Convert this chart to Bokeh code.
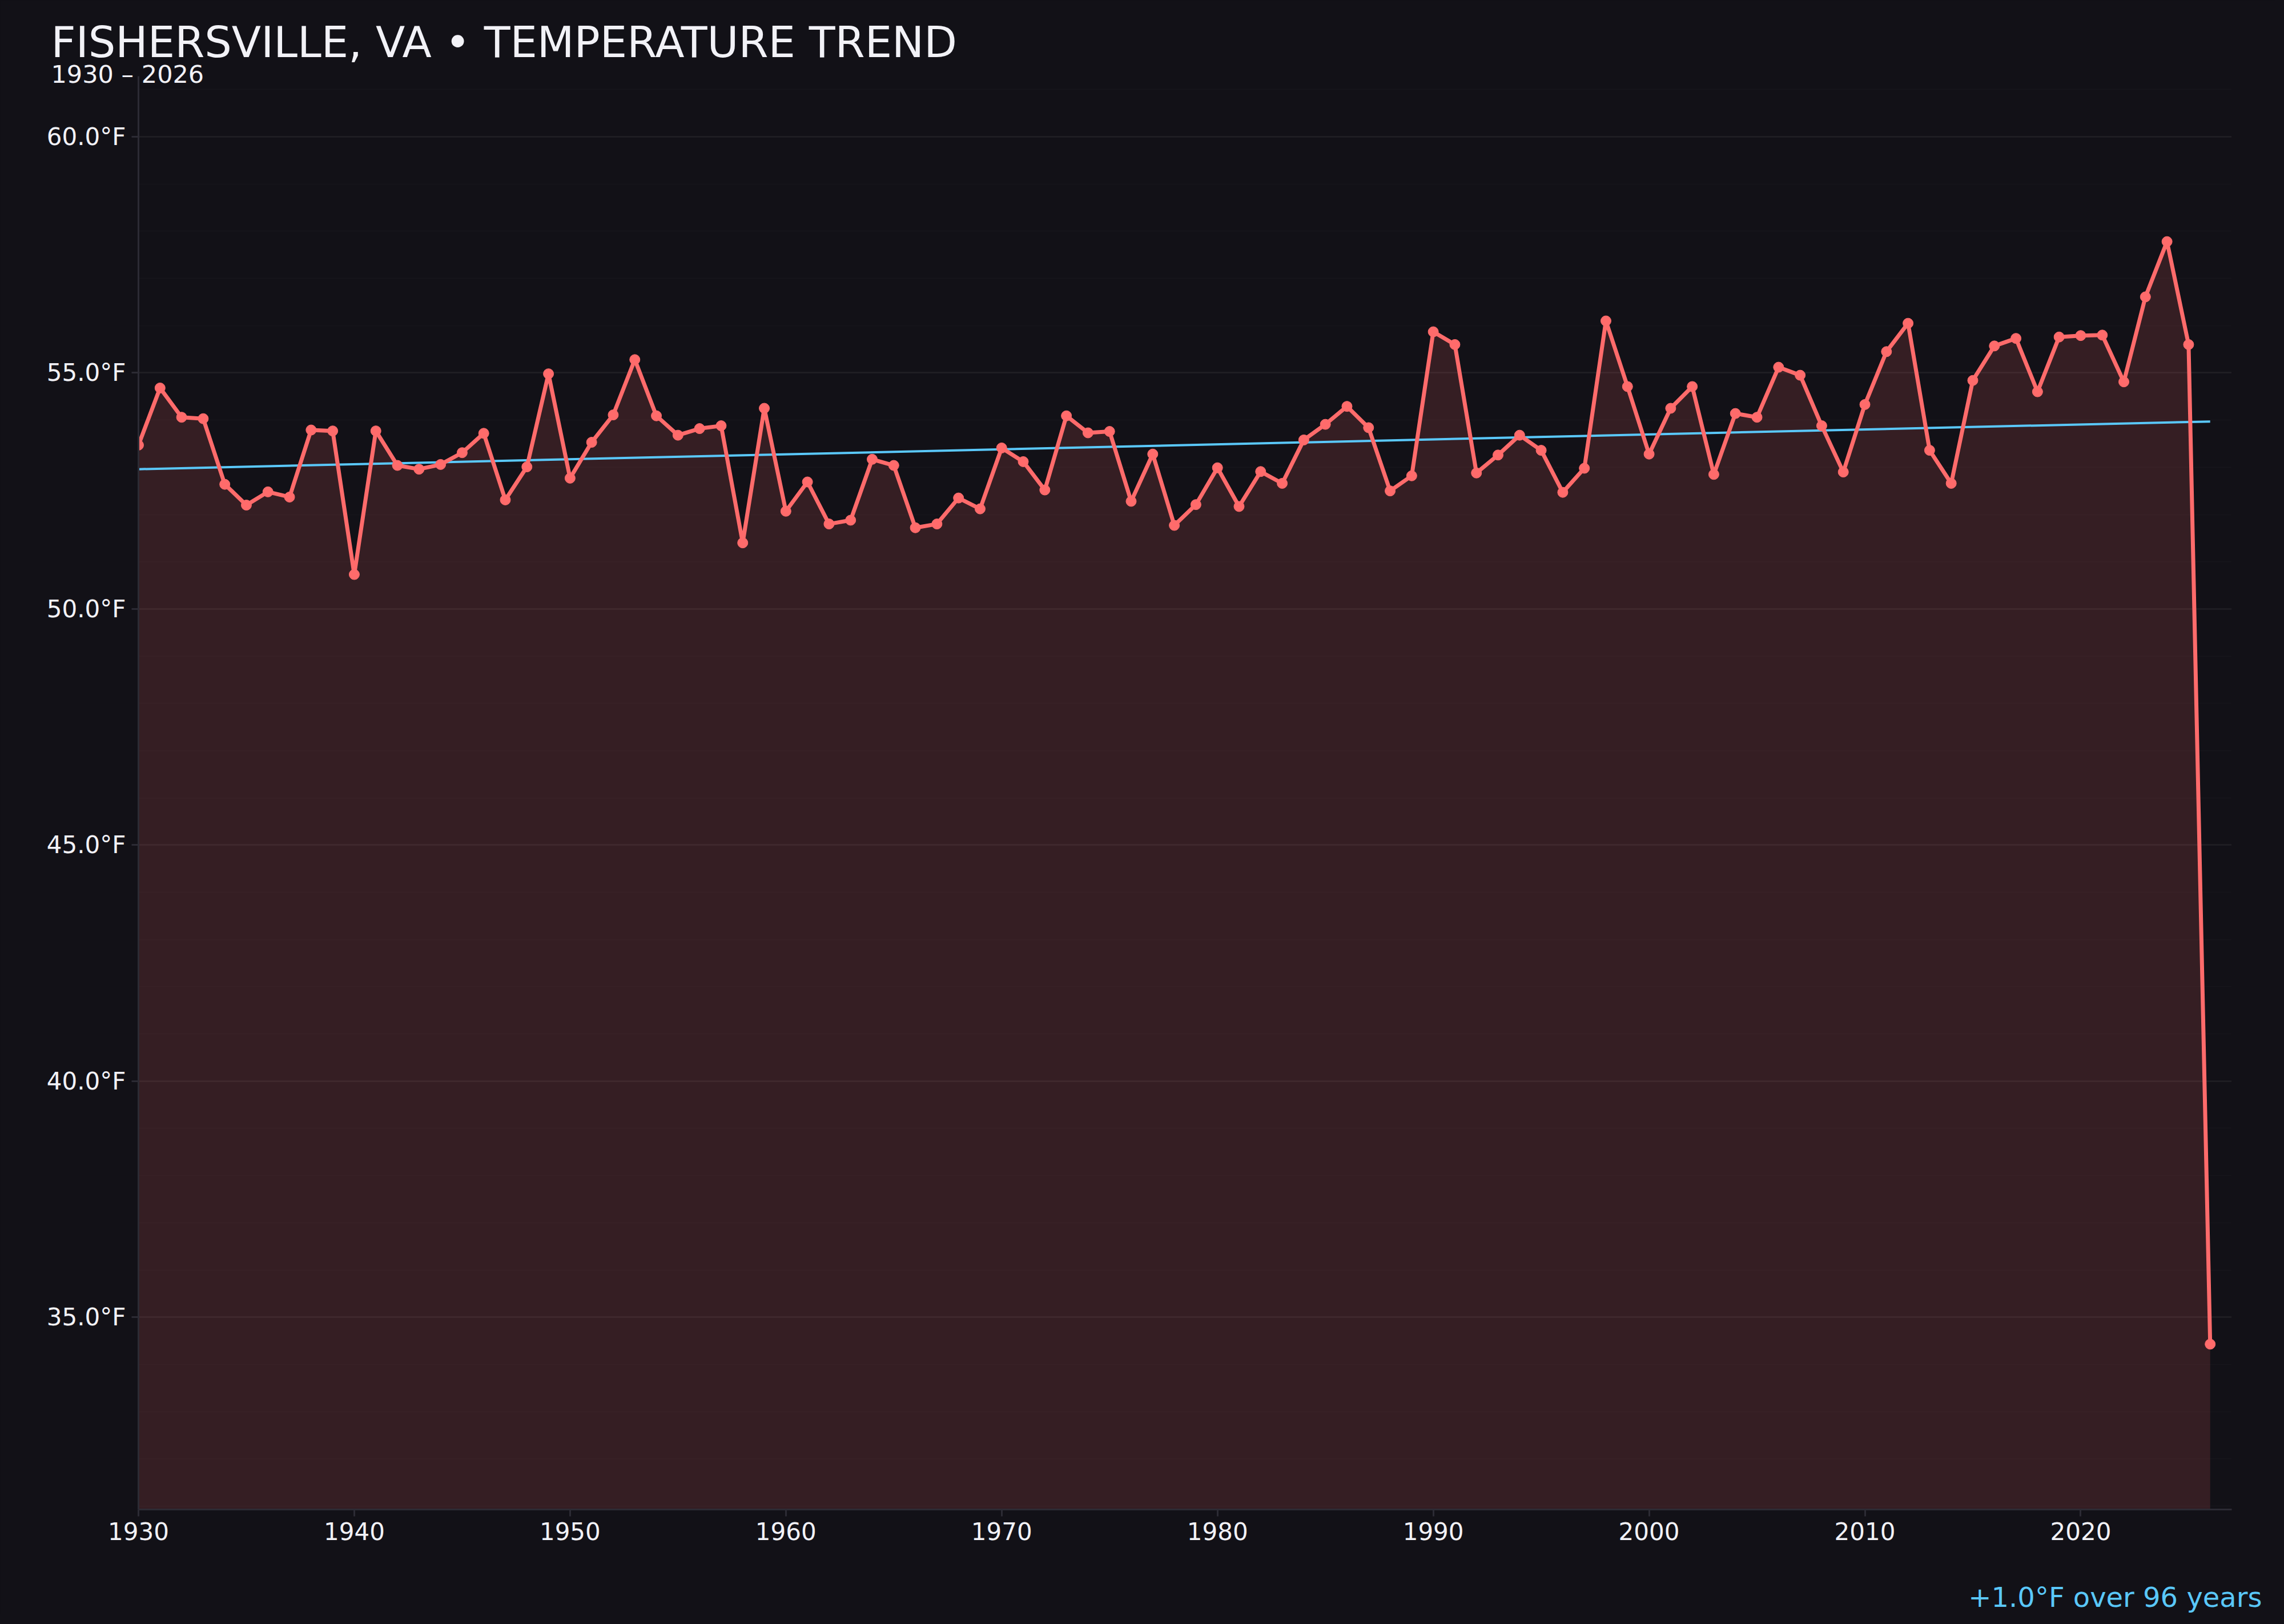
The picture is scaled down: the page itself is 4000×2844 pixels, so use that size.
from bokeh.embed import file_html
from bokeh.models import ColumnDataSource, FixedTicker, PrintfTickFormatter, Range1d, Title
from bokeh.plotting import figure
from bokeh.resources import INLINE

years = list(range(1930, 2027))
temps = [
    53.47, 54.68, 54.06, 54.03, 52.64, 52.20, 52.48, 52.37, 53.79, 53.77,  # 1930s
    50.73, 53.77, 53.04, 52.96, 53.06, 53.31, 53.72, 52.31, 53.01, 54.98,  # 1940s
    52.77, 53.53, 54.11, 55.28, 54.09, 53.68, 53.82, 53.88, 51.40, 54.25,  # 1950s
    52.07, 52.69, 51.80, 51.88, 53.17, 53.04, 51.72, 51.80, 52.35, 52.12,  # 1960s
    53.41, 53.12, 52.52, 54.09, 53.73, 53.76, 52.28, 53.28, 51.77, 52.21,  # 1970s
    52.99, 52.17, 52.91, 52.66, 53.58, 53.91, 54.29, 53.84, 52.50, 52.82,  # 1980s
    55.87, 55.60, 52.88, 53.26, 53.68, 53.36, 52.47, 52.98, 56.10, 54.71,  # 1990s
    53.28, 54.25, 54.71, 52.85, 54.14, 54.06, 55.12, 54.95, 53.88, 52.90,  # 2000s
    54.33, 55.45, 56.05, 53.36, 52.66, 54.84, 55.57, 55.73, 54.60, 55.76,  # 2010s
    55.79, 55.80, 54.81, 56.61, 57.78, 55.60, 34.43,                       # 2020s
]
trend_years = [1930, 2026]
trend_temps = [52.96, 53.97]
x_ticks = [1930, 1940, 1950, 1960, 1970, 1980, 1990, 2000, 2010, 2020]
y_ticks = [35, 40, 45, 50, 55, 60]

title_text = "FISHERSVILLE, VA \u2022 TEMPERATURE TREND"
subtitle_text = "1930 \u2013 2026"
change_text = "+1.0\u00b0F over 96 years"

BG = "#121117"
RED = "#ff6b6b"
BLUE = "#5ac8fa"
TEXT = "#f2f2f7"
AXIS = "#2c2b34"
FONT = "DejaVu Sans"

lo, hi = min(temps), max(temps)
pad = (hi - lo) * 0.15
y_lo, y_hi = lo - pad, hi + pad

p = figure(
    width=3984,
    height=2826,
    title=title_text,
    x_range=Range1d(1930, 2027),
    y_range=Range1d(y_lo, y_hi),
    toolbar_location=None,
    output_backend="svg",
    background_fill_color=BG,
    border_fill_color=BG,
    min_border_left=242,
    min_border_right=76,
    min_border_top=133,
    min_border_bottom=183,
)
p.outline_line_color = None

src = ColumnDataSource({"year": years, "temp": temps, "base": [y_lo] * len(years)})

p.varea(x="year", y1="base", y2="temp", source=src, fill_color=RED, fill_alpha=0.15)
p.line(x=trend_years, y=trend_temps, line_color=BLUE, line_width=4)
p.line(x="year", y="temp", source=src, line_color=RED, line_width=7)
p.scatter(x="year", y="temp", source=src, size=18, fill_color=RED, line_color=RED)

# axes
p.xaxis.ticker = FixedTicker(ticks=x_ticks)
p.yaxis.ticker = FixedTicker(ticks=y_ticks, minor_ticks=list(range(31, 62)))
p.yaxis.formatter = PrintfTickFormatter(format="%.1f\u00b0F")
for ax in (p.xaxis, p.yaxis):
    ax.axis_line_color = AXIS
    ax.axis_line_width = 3
    ax.major_tick_line_color = AXIS
    ax.major_tick_line_width = 3
    ax.major_tick_out = 12
    ax.major_tick_in = 0
    ax.minor_tick_line_color = None
    ax.major_label_text_color = TEXT
    ax.major_label_text_font = FONT
    ax.major_label_text_font_size = "42px"
    ax.major_label_standoff = 10
# blank axis label only pads the bottom panel so the note sits low
p.xaxis.axis_label = " "
p.xaxis.axis_label_text_font_size = "57px"
p.xaxis.axis_label_standoff = 0

p.xgrid.grid_line_color = None
p.ygrid.grid_line_color = "#ffffff"
p.ygrid.grid_line_alpha = 0.045
p.ygrid.grid_line_width = 3
p.ygrid.minor_grid_line_color = "#ffffff"
p.ygrid.minor_grid_line_alpha = 0.02
p.ygrid.minor_grid_line_width = 2

# main title is the figure's own title (outermost); subtitle sits next to the frame
p.title.text_font = FONT
p.title.text_font_size = "75px"
p.title.text_font_style = "normal"
p.title.text_color = TEXT
p.title.align = "left"
p.title.offset = -153
p.title.standoff = 14

p.add_layout(Title(
    text=subtitle_text, text_font=FONT, text_font_size="43px", text_font_style="normal",
    text_color=TEXT, align="left", offset=-153, standoff=-43,
), "above")

p.add_layout(Title(
    text=change_text, text_font=FONT, text_font_size="48px", text_font_style="normal",
    text_color=BLUE, align="right", offset=-53, standoff=0,
), "below")

html = file_html(p, INLINE)
html = html.replace("<body>", '<body style="background-color:#121117;">')
open("out.html", "w").write(html)
